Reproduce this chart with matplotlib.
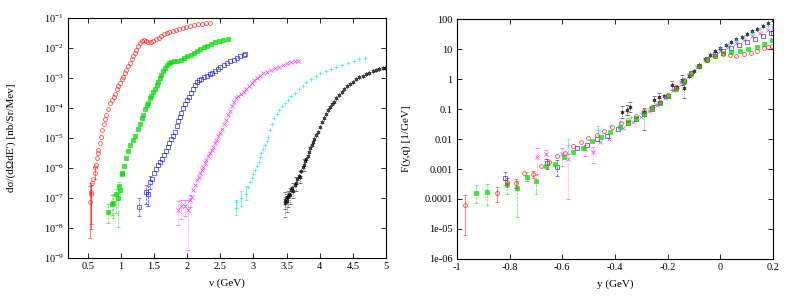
import numpy as np
import matplotlib
matplotlib.use('Agg')
import matplotlib.pyplot as plt

plt.rcParams['font.family'] = ['Liberation Serif', 'DejaVu Serif']
plt.rcParams['mathtext.fontset'] = 'stix'

# ---- left panel: cross sections vs nu (values stored as log10) ----
red_nu = [0.53, 0.54, 0.55, 0.56, 0.58, 0.60, 0.61, 0.62, 0.64, 0.65, 0.66, 0.68, 0.70, 0.72, 0.74,
          0.76, 0.78, 0.81, 0.84, 0.86, 0.89, 0.91, 0.94, 0.96, 0.98, 1.01, 1.03, 1.06, 1.08, 1.11,
          1.13, 1.16, 1.18, 1.21, 1.23, 1.26, 1.28, 1.31, 1.34, 1.37, 1.41, 1.45, 1.49, 1.53, 1.57,
          1.61, 1.65, 1.69, 1.73, 1.78, 1.83, 1.88, 1.93, 1.98, 2.04, 2.10, 2.16, 2.22, 2.28, 2.34]
red_lg = [-7.12, -6.85, -6.79, -6.5, -6.35, -6.18, -5.98, -5.9, -5.68, -5.5, -5.4, -5.18, -4.98, -4.75, -4.55,
          -4.38, -4.22, -4.02, -3.85, -3.73, -3.62, -3.53, -3.38, -3.27, -3.16, -3.05, -2.96, -2.83, -2.72, -2.6,
          -2.5, -2.38, -2.28, -2.16, -2.06, -1.94, -1.84, -1.76, -1.75, -1.78, -1.79, -1.79, -1.77, -1.72, -1.67,
          -1.6, -1.55, -1.52, -1.48, -1.45, -1.41, -1.37, -1.34, -1.31, -1.27, -1.24, -1.21, -1.19, -1.17, -1.16]
red_err_nu = [0.53, 0.54, 0.55, 0.60]
red_err_lg = [-7.12, -6.85, -6.79, -6.18]
red_err_lo = [-8.33, -7.85, -8.03, -6.35]
red_err_hi = [-6.6, -6.55, -6.5, -5.98]

green_nu = [0.81, 0.86, 0.88, 0.92, 0.95, 0.97, 0.99, 1.01, 1.02, 1.04, 1.07, 1.11, 1.14, 1.18, 1.21,
            1.25, 1.28, 1.31, 1.33, 1.36, 1.39, 1.41, 1.44, 1.46, 1.49, 1.51, 1.54, 1.56, 1.59, 1.61,
            1.64, 1.66, 1.69, 1.72, 1.76, 1.80, 1.85, 1.90, 1.95, 2.00, 2.05, 2.10, 2.15, 2.20, 2.25,
            2.30, 2.36, 2.42, 2.48, 2.54, 2.61]
green_lg = [-7.46, -7.2, -7.16, -6.88, -6.99, -6.6, -6.72, -6.21, -6.15, -5.93, -5.68, -5.42, -5.23, -5.07, -4.92,
            -4.7, -4.55, -4.35, -4.23, -4.05, -3.9, -3.82, -3.68, -3.6, -3.48, -3.38, -3.25, -3.13, -3.0, -2.9,
            -2.78, -2.67, -2.57, -2.5, -2.46, -2.45, -2.42, -2.4, -2.34, -2.27, -2.22, -2.17, -2.1, -2.03, -1.97,
            -1.92, -1.87, -1.82, -1.78, -1.74, -1.72]
green_err_nu = [0.81, 0.86, 0.88, 0.92, 0.95, 0.97]
green_err_lg = [-7.46, -7.2, -7.16, -6.88, -6.99, -6.6]
green_err_lo = [-7.82, -7.55, -7.65, -7.5, -7.95, -6.85]
green_err_hi = [-7.2, -6.9, -6.85, -6.7, -6.6, -6.45]

blue_nu = [1.27, 1.37, 1.41, 1.44, 1.47, 1.50, 1.53, 1.56, 1.59, 1.62, 1.65, 1.68, 1.71, 1.73, 1.76,
           1.78, 1.81, 1.84, 1.86, 1.89, 1.91, 1.94, 1.96, 1.99, 2.02, 2.05, 2.08, 2.11, 2.14, 2.17,
           2.21, 2.25, 2.30, 2.34, 2.38, 2.42, 2.46, 2.50, 2.55, 2.60, 2.65, 2.70, 2.75, 2.80, 2.85, 2.87]
blue_lg = [-7.29, -6.79, -6.88, -6.45, -6.35, -6.18, -6.02, -5.9, -5.79, -5.7, -5.58, -5.42, -5.3, -5.18, -5.03,
           -4.93, -4.8, -4.6, -4.45, -4.3, -4.18, -4.0, -3.86, -3.73, -3.62, -3.5, -3.38, -3.25, -3.15, -3.08,
           -3.03, -2.98, -2.93, -2.88, -2.82, -2.76, -2.7, -2.64, -2.57, -2.5, -2.44, -2.39, -2.33, -2.27, -2.22, -2.2]
blue_err_nu = [1.27, 1.37, 1.41, 1.44]
blue_err_lg = [-7.29, -6.79, -6.88, -6.45]
blue_err_lo = [-7.6, -7.2, -7.25, -6.7]
blue_err_hi = [-7.0, -6.55, -6.6, -6.25]

mag_nu = [1.86, 1.91, 1.96, 2.01, 2.04, 2.07, 2.09, 2.12, 2.14, 2.17, 2.19, 2.22, 2.24, 2.27, 2.29,
          2.32, 2.34, 2.37, 2.39, 2.42, 2.44, 2.47, 2.49, 2.52, 2.55, 2.58, 2.61, 2.64, 2.67, 2.70,
          2.73, 2.77, 2.81, 2.85, 2.89, 2.93, 2.97, 3.01, 3.05, 3.10, 3.15, 3.20, 3.26, 3.32, 3.38,
          3.44, 3.50, 3.56, 3.62, 3.67]
mag_lg = [-7.4, -7.27, -7.27, -7.4, -7.07, -6.95, -6.73, -6.55, -6.4, -6.3, -6.18, -6.08, -5.96, -5.85, -5.73,
          -5.6, -5.51, -5.4, -5.29, -5.18, -5.07, -4.95, -4.84, -4.7, -4.55, -4.4, -4.25, -4.1, -3.95, -3.8,
          -3.68, -3.6, -3.55, -3.48, -3.38, -3.27, -3.17, -3.08, -3.0, -2.92, -2.85, -2.8, -2.74, -2.68, -2.62,
          -2.56, -2.51, -2.47, -2.44, -2.42]
mag_err_nu = [1.86, 1.91, 1.96, 2.01, 2.04]
mag_err_lg = [-7.4, -7.27, -7.27, -7.4, -7.07]
mag_err_lo = [-7.9, -7.7, -7.6, -8.73, -7.3]
mag_err_hi = [-7.1, -7.05, -7.05, -7.05, -6.9]

cyan_nu = [2.73, 2.74, 2.81, 2.88, 2.91, 2.94, 2.97, 3.00, 3.02, 3.05, 3.08, 3.10, 3.12, 3.15, 3.17,
           3.20, 3.22, 3.25, 3.28, 3.31, 3.35, 3.39, 3.43, 3.47, 3.52, 3.57, 3.62, 3.68, 3.74, 3.80,
           3.87, 3.94, 4.01, 4.09, 4.17, 4.25, 4.34, 4.43, 4.52, 4.60, 4.68]
cyan_lg = [-7.34, -7.12, -7.0, -6.85, -6.62, -6.48, -6.34, -6.2, -6.07, -5.93, -5.79, -5.65, -5.51, -5.37, -5.23,
           -5.1, -4.96, -4.75, -4.52, -4.35, -4.2, -4.07, -3.95, -3.84, -3.72, -3.6, -3.5, -3.38, -3.26, -3.15,
           -3.03, -2.93, -2.85, -2.78, -2.7, -2.63, -2.56, -2.49, -2.43, -2.38, -2.34]
cyan_err_nu = [2.73, 2.81, 2.88]
cyan_err_lg = [-7.34, -7.0, -6.85]
cyan_err_lo = [-7.55, -7.25, -7.05]
cyan_err_hi = [-7.05, -6.75, -6.6]

black_nu = [3.47, 3.48, 3.50, 3.50, 3.52, 3.53, 3.55, 3.56, 3.58, 3.60, 3.62, 3.64, 3.66, 3.68, 3.70,
            3.72, 3.74, 3.76, 3.78, 3.80, 3.82, 3.84, 3.86, 3.88, 3.90, 3.92, 3.95, 3.97, 4.00, 4.03,
            4.06, 4.09, 4.12, 4.15, 4.18, 4.21, 4.25, 4.29, 4.33, 4.37, 4.41, 4.45, 4.50, 4.55, 4.60,
            4.65, 4.70, 4.75, 4.80, 4.85, 4.90, 4.95, 4.99]
black_lg = [-7.18, -7.05, -6.95, -7.1, -6.98, -6.85, -6.9, -6.73, -6.65, -6.75, -6.55, -6.5, -6.38, -6.25, -6.3,
            -6.1, -5.96, -5.9, -5.78, -5.7, -5.6, -5.46, -5.35, -5.24, -5.12, -5.03, -4.9, -4.8, -4.65, -4.48,
            -4.33, -4.2, -4.07, -3.97, -3.88, -3.79, -3.68, -3.57, -3.46, -3.37, -3.28, -3.2, -3.12, -3.05, -2.98,
            -2.92, -2.87, -2.82, -2.77, -2.73, -2.7, -2.68, -2.67]
black_err_nu = [3.47, 3.48, 3.50, 3.52, 3.55, 3.60, 3.64, 3.70, 3.76]
black_err_lg = [-7.18, -7.05, -7.1, -6.98, -6.9, -6.75, -6.5, -6.3, -5.9]
black_err_lo = [-7.62, -7.35, -7.45, -7.3, -7.2, -7.0, -6.75, -6.5, -6.1]
black_err_hi = [-6.95, -6.8, -6.85, -6.75, -6.65, -6.5, -6.3, -6.1, -5.7]

# ---- right panel: F(y,q) vs y (values stored as log10) ----
fr_y = [-0.97, -0.847, -0.811, -0.777, -0.746, -0.713, -0.681, -0.651, -0.621, -0.59, -0.56, -0.53,
        -0.501, -0.469, -0.44, -0.41, -0.378, -0.35, -0.32, -0.29, -0.26, -0.23, -0.2, -0.17, -0.14,
        -0.11, -0.08, -0.05, -0.02, 0.01, 0.035, 0.06, 0.09, 0.115, 0.14, 0.165, 0.18, 0.195]
fr_lg = [-4.2, -3.79, -3.42, -3.48, -3.14, -3.17, -2.9, -2.76, -2.57, -2.46, -2.23, -2.11,
         -1.98, -1.87, -1.73, -1.59, -1.46, -1.35, -1.22, -1.07, -0.93, -0.75, -0.52, -0.26, -0.03,
         0.2, 0.44, 0.63, 0.77, 0.83, 0.8, 0.78, 0.83, 0.88, 0.95, 1.03, 1.07, 1.1]
fr_err_y = [-0.97, -0.847, -0.811, -0.777, -0.713]
fr_err_lg = [-4.2, -3.79, -3.42, -3.48, -3.17]
fr_err_lo = [-5.2, -4.1, -3.6, -3.65, -3.3]
fr_err_hi = [-3.87, -3.6, -3.3, -3.35, -3.05]

fg_y = [-0.928, -0.887, -0.811, -0.773, -0.735, -0.70, -0.663, -0.628, -0.594, -0.558, -0.523, -0.488,
        -0.453, -0.419, -0.381, -0.35, -0.32, -0.29, -0.26, -0.23, -0.2, -0.17, -0.14, -0.11, -0.08,
        -0.05, -0.02, 0.01, 0.04, 0.075, 0.105, 0.138, 0.165, 0.195]
fg_lg = [-3.79, -3.76, -3.51, -3.62, -3.26, -3.39, -2.89, -2.84, -2.61, -2.42, -2.31, -2.06,
         -1.92, -1.78, -1.59, -1.43, -1.3, -1.15, -0.98, -0.8, -0.58, -0.32, -0.08, 0.16, 0.42,
         0.62, 0.78, 0.86, 0.89, 0.92, 1.0, 1.08, 1.18, 1.3]
fg_err_y = [-0.928, -0.887, -0.811, -0.773, -0.735, -0.70]
fg_err_lg = [-3.79, -3.76, -3.51, -3.62, -3.26, -3.39]
fg_err_lo = [-4.15, -4.2, -3.85, -4.6, -3.4, -3.85]
fg_err_hi = [-3.55, -3.5, -3.3, -3.4, -3.1, -3.2]

fb_y = [-0.818, -0.659, -0.621, -0.545, -0.507, -0.469, -0.429, -0.39, -0.349, -0.32, -0.29, -0.26,
        -0.23, -0.2, -0.17, -0.14, -0.11, -0.08, -0.05, -0.02, 0.01, 0.04, 0.07, 0.1, 0.13, 0.16, 0.19, 0.2]
fb_lg = [-3.29, -2.81, -2.92, -2.31, -2.2, -2.01, -1.89, -1.68, -1.48, -1.33, -1.17, -1.0,
         -0.8, -0.56, -0.3, -0.05, 0.2, 0.45, 0.66, 0.82, 0.93, 1.03, 1.13, 1.23, 1.33, 1.43, 1.52, 1.55]
fb_err_y = [-0.818, -0.659, -0.621]
fb_err_lg = [-3.29, -2.81, -2.92]
fb_err_lo = [-3.55, -3.0, -3.25]
fb_err_hi = [-3.1, -2.65, -2.7]

fm_y = [-0.695, -0.663, -0.602, -0.577, -0.514, -0.485, -0.457, -0.423, -0.368, -0.33, -0.3, -0.27,
        -0.24, -0.21, -0.18, -0.15, -0.12, -0.09, -0.06, -0.03, 0.0, 0.03, 0.06, 0.09, 0.12, 0.15, 0.18, 0.2]
fm_lg = [-2.61, -2.5, -2.5, -2.68, -2.34, -2.42, -2.09, -2.0, -1.64, -1.42, -1.25, -1.08,
         -0.88, -0.62, -0.36, -0.1, 0.15, 0.4, 0.62, 0.8, 0.95, 1.08, 1.2, 1.31, 1.42, 1.53, 1.63, 1.7]
fm_err_y = [-0.695, -0.663, -0.602, -0.577, -0.514, -0.485]
fm_err_lg = [-2.61, -2.5, -2.5, -2.68, -2.34, -2.42]
fm_err_lo = [-3.15, -2.65, -2.9, -4.0, -2.55, -2.8]
fm_err_hi = [-2.3, -2.35, -2.3, -2.5, -2.2, -2.25]

fc_y = [-0.58, -0.463, -0.42, -0.38, -0.34, -0.3, -0.27, -0.24, -0.21, -0.18, -0.15, -0.12,
        -0.09, -0.06, -0.03, 0.0, 0.03, 0.06, 0.09, 0.12, 0.15, 0.18, 0.2]
fc_lg = [-2.2, -1.7, -1.55, -1.42, -1.28, -1.12, -0.98, -0.82, -0.6, -0.35, -0.1, 0.16,
         0.42, 0.64, 0.84, 1.02, 1.17, 1.3, 1.43, 1.55, 1.66, 1.77, 1.84]
fc_err_y = [-0.58, -0.463]
fc_err_lg = [-2.2, -1.7]
fc_err_lo = [-2.45, -1.85]
fc_err_hi = [-2.0, -1.55]

fk_y = [-0.375, -0.355, -0.343, -0.29, -0.254, -0.235, -0.215, -0.185, -0.165, -0.147, -0.14, -0.12,
        -0.1, -0.08, -0.06, -0.04, -0.02, 0.0, 0.02, 0.04, 0.06, 0.08, 0.1, 0.12, 0.14, 0.16, 0.18, 0.2]
fk_lg = [-1.1, -1.03, -0.92, -1.1, -0.7, -0.59, -0.55, -0.2, -0.25, -0.03, -0.31, 0.1,
         0.27, 0.48, 0.68, 0.8, 0.92, 1.04, 1.14, 1.23, 1.32, 1.41, 1.5, 1.59, 1.68, 1.77, 1.87, 1.98]
fk_err_y = [-0.375, -0.355, -0.343, -0.29, -0.254, -0.235, -0.185, -0.147, -0.14]
fk_err_lg = [-1.1, -1.03, -0.92, -1.1, -0.7, -0.59, -0.2, -0.03, -0.31]
fk_err_lo = [-1.3, -1.2, -1.1, -1.7, -0.85, -0.75, -0.35, -0.2, -0.62]
fk_err_hi = [-0.9, -0.85, -0.75, -0.95, -0.55, -0.45, -0.05, 0.12, -0.15]

left_xticks = [0.5, 1, 1.5, 2, 2.5, 3, 3.5, 4, 4.5, 5]
left_xlabels = ['0.5', '1', '1.5', '2', '2.5', '3', '3.5', '4', '4.5', '5']
right_xticks = [-1, -0.8, -0.6, -0.4, -0.2, 0, 0.2]
right_xlabels = ['-1', '-0.8', '-0.6', '-0.4', '-0.2', '0', '0.2']
right_yticks = [1e-6, 1e-5, 1e-4, 1e-3, 1e-2, 1e-1, 1, 10, 100]
right_ylabels = ['1e-06', '1e-05', '0.0001', '0.001', '0.01', '0.1', '1', '10', '100']

styles = {
    'red': dict(c='#ff0000', m='o', fill=False, ls='-'),
    'green': dict(c='#00e000', m='s', fill=True, ls='--'),
    'blue': dict(c='#0000ff', m='s', fill=False, ls='--'),
    'mag': dict(c='#ff00ff', m='x', fill=False, ls=':'),
    'cyan': dict(c='#00e8e8', m='+', fill=False, ls='-'),
    'black': dict(c='#000000', m=(6, 2, 0), fill=False, ls=':'),
}


def draw(ax, x, lg, ex, elg, elo, ehi, st):
    x = np.array(x)
    v = 10 ** np.array(lg)
    ev = 10 ** np.array(elg)
    lo = ev - 10 ** np.array(elo)
    hi = 10 ** np.array(ehi) - ev
    eb = ax.errorbar(ex, ev, yerr=[lo, hi], fmt='none', ecolor=st['c'], elinewidth=0.5,
                     capsize=1.3, capthick=0.5, alpha=0.7)
    for lc in eb[2]:
        lc.set_linestyle(st['ls'])
    ms = 2.6 if st['m'] == 's' else 2.8
    ax.plot(x, v, linestyle='none', marker=st['m'], ms=ms, mew=0.55,
            mec=st['c'], mfc=st['c'] if st['fill'] else 'none', alpha=0.75)


fig = plt.figure(figsize=(7.89, 2.98), dpi=100)
ax1 = fig.add_axes([0.0862, 0.134, 0.403, 0.806])
ax2 = fig.add_axes([0.579, 0.131, 0.401, 0.805])

draw(ax1, red_nu, red_lg, red_err_nu, red_err_lg, red_err_lo, red_err_hi, styles['red'])
draw(ax1, green_nu, green_lg, green_err_nu, green_err_lg, green_err_lo, green_err_hi, styles['green'])
draw(ax1, blue_nu, blue_lg, blue_err_nu, blue_err_lg, blue_err_lo, blue_err_hi, styles['blue'])
draw(ax1, mag_nu, mag_lg, mag_err_nu, mag_err_lg, mag_err_lo, mag_err_hi, styles['mag'])
draw(ax1, cyan_nu, cyan_lg, cyan_err_nu, cyan_err_lg, cyan_err_lo, cyan_err_hi, styles['cyan'])
draw(ax1, black_nu, black_lg, black_err_nu, black_err_lg, black_err_lo, black_err_hi, styles['black'])

draw(ax2, fk_y, fk_lg, fk_err_y, fk_err_lg, fk_err_lo, fk_err_hi, styles['black'])
draw(ax2, fc_y, fc_lg, fc_err_y, fc_err_lg, fc_err_lo, fc_err_hi, styles['cyan'])
draw(ax2, fm_y, fm_lg, fm_err_y, fm_err_lg, fm_err_lo, fm_err_hi, styles['mag'])
draw(ax2, fb_y, fb_lg, fb_err_y, fb_err_lg, fb_err_lo, fb_err_hi, styles['blue'])
draw(ax2, fg_y, fg_lg, fg_err_y, fg_err_lg, fg_err_lo, fg_err_hi, styles['green'])
draw(ax2, fr_y, fr_lg, fr_err_y, fr_err_lg, fr_err_lo, fr_err_hi, styles['red'])

ax1.set_yscale('log')
ax1.set_xlim(0.2, 5)
ax1.set_ylim(1e-9, 1e-1)
ax1.set_xticks(left_xticks)
ax1.set_xticklabels(left_xlabels)
ax1.set_yticks([10.0 ** k for k in range(-9, 0)])
ax1.set_xlabel('ν (GeV)', fontsize=8, labelpad=5)
ax1.set_ylabel("dσ/(dΩdE′) [nb/Sr/Mev]", fontsize=8, labelpad=20)

ax2.set_yscale('log')
ax2.set_xlim(-1, 0.2)
ax2.set_ylim(1e-6, 100)
ax2.set_xticks(right_xticks)
ax2.set_xticklabels(right_xlabels)
ax2.set_yticks(right_yticks)
ax2.set_yticklabels(right_ylabels)
ax2.set_xlabel('y (GeV)', fontsize=8, labelpad=5)
ax2.set_ylabel('F(y,q) [1/GeV]', fontsize=8, labelpad=10)

for ax in (ax1, ax2):
    ax.minorticks_off()
    ax.tick_params(which='both', direction='in', top=True, right=True, length=3.5,
                   width=0.6, labelsize=7.5, pad=3)
    for s in ax.spines.values():
        s.set_linewidth(0.8)

fig.savefig('out.png', dpi=100)
